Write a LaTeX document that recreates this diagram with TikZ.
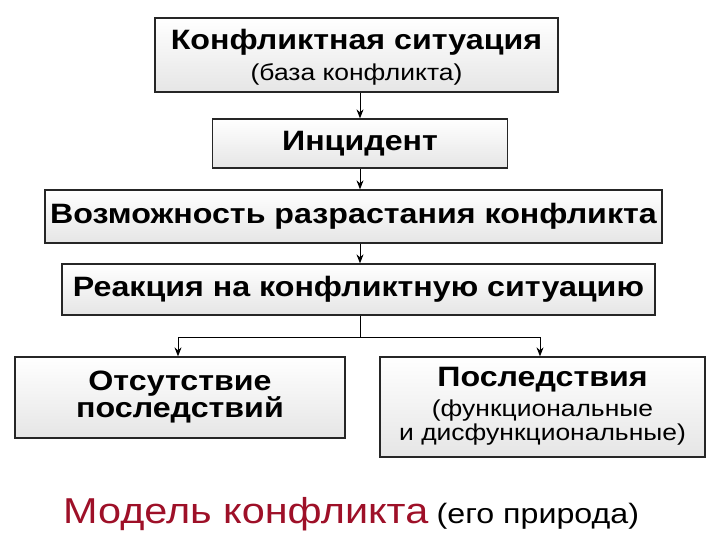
\documentclass[tikz,border=0pt]{standalone}
\usepackage{fontspec}
\usetikzlibrary{arrows.meta}
\setmainfont[FakeStretch=1.15]{Liberation Sans}
\begin{document}
\begin{tikzpicture}[x=1pt,y=-1pt,
  bx/.style={draw=black!85,line width=1.3pt,top color=white,bottom color=black!10,inner sep=0pt},
  ar/.style={-{Stealth[length=9pt,width=7pt]},line width=0.9pt},
  big/.style={font=\fontsize{28}{30}\selectfont\bfseries},
  sm/.style={font=\fontsize{23}{25}\selectfont}]
\useasboundingbox (0,0) rectangle (720,540);
\node[bx,minimum width=403,minimum height=74] (a) at (356.5,55) {};
\node[big] at (356.5,42) {Конфликтная ситуация};
\node[sm] at (356.5,74) {(база конфликта)};
\node[bx,big,minimum width=295,minimum height=49] (b) at (360,143.5) {Инцидент};
\node[bx,big,minimum width=617,minimum height=53] (c) at (353.5,216.5) {Возможность разрастания конфликта};
\node[bx,big,minimum width=593,minimum height=51] (d) at (358.5,289.5) {Реакция на конфликтную ситуацию};
\node[bx,big,minimum width=330,minimum height=81,align=center,font=\fontsize{28}{27}\selectfont\bfseries] (e) at (180,397.5) {Отсутствие\\ последствий};
\node[bx,minimum width=325,minimum height=100] (f) at (542.5,407) {};
\node[big] at (542.5,380) {Последствия};
\node[sm,align=center,font=\fontsize{23}{24}\selectfont] at (542.5,423) {(функциональные\\ и дисфункциональные)};
\coordinate (m) at (360,337);
\draw[ar] (a.south -| m) -- (b.north -| m);
\draw[ar] (b.south -| m) -- (c.north -| m);
\draw[ar] (c.south -| m) -- (d.north -| m);
\draw[line width=0.9pt] (d.south -| m) -- (m);
\draw[ar] (m) -| (e.north -| 178,0);
\draw[ar] (m) -| (f.north -| 540,0);
\node[anchor=base west,inner sep=0pt] (t) at (63,523) {\fontsize{36}{38}\selectfont\color[HTML]{9E1028}Модель конфликта};
\node[anchor=base west,inner sep=0pt] at ([xshift=8pt]t.base east) {\fontsize{28}{30}\selectfont(его природа)};
\end{tikzpicture}
\end{document}
